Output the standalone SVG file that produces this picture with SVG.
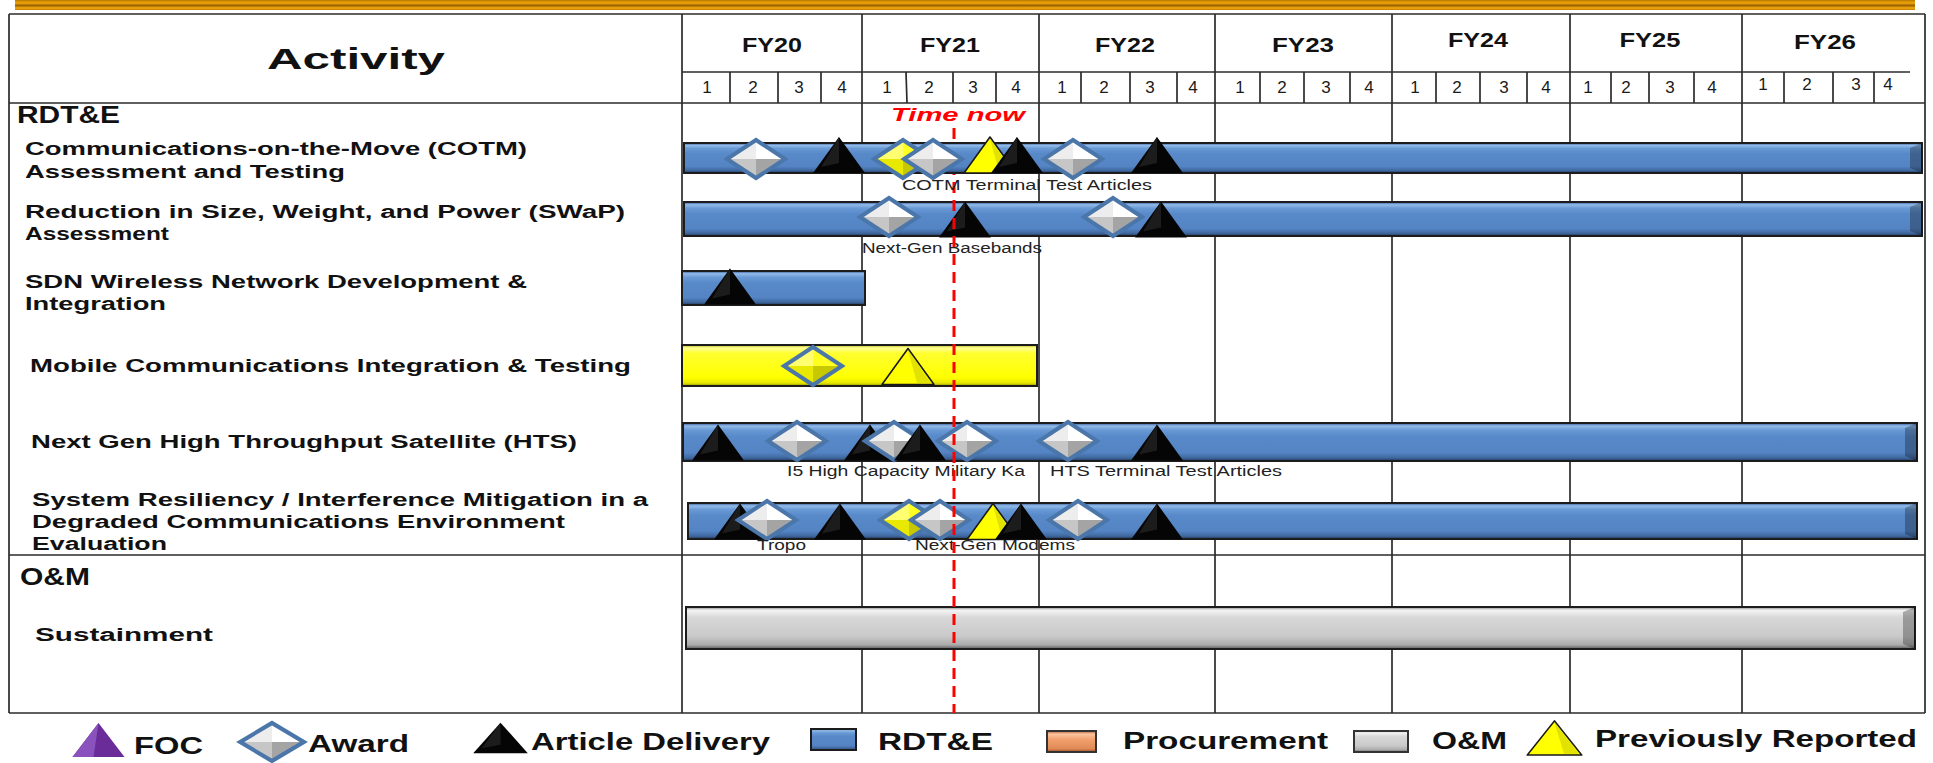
<svg xmlns="http://www.w3.org/2000/svg" width="1933" height="763" viewBox="0 0 1933 763">
<defs>
<linearGradient id="gOrange" x1="0" y1="0" x2="0" y2="1">
<stop offset="0" stop-color="#B87A00"/><stop offset="0.3" stop-color="#F3A70C"/><stop offset="0.55" stop-color="#9A6200"/><stop offset="0.8" stop-color="#F7AA10"/><stop offset="1" stop-color="#C27C00"/>
</linearGradient>
<linearGradient id="gBlue" x1="0" y1="0" x2="0" y2="1">
<stop offset="0" stop-color="#2F5597"/><stop offset="0.08" stop-color="#93BBE8"/><stop offset="0.18" stop-color="#6A9BD6"/><stop offset="0.35" stop-color="#5889C9"/><stop offset="0.78" stop-color="#5484C4"/><stop offset="0.92" stop-color="#3F679E"/><stop offset="1" stop-color="#1F3556"/>
</linearGradient>
<linearGradient id="gYellow" x1="0" y1="0" x2="0" y2="1">
<stop offset="0" stop-color="#B5B500"/><stop offset="0.07" stop-color="#FFFF9A"/><stop offset="0.2" stop-color="#FFFF30"/><stop offset="0.8" stop-color="#FFFF00"/><stop offset="0.93" stop-color="#E5E500"/><stop offset="1" stop-color="#8A8A00"/>
</linearGradient>
<linearGradient id="gGray" x1="0" y1="0" x2="0" y2="1">
<stop offset="0" stop-color="#8A8A8A"/><stop offset="0.08" stop-color="#F4F4F4"/><stop offset="0.25" stop-color="#D8D8D8"/><stop offset="0.7" stop-color="#C9C9C9"/><stop offset="0.9" stop-color="#ABABAB"/><stop offset="1" stop-color="#5A5A5A"/>
</linearGradient>
<linearGradient id="gProc" x1="0" y1="0" x2="0" y2="1">
<stop offset="0" stop-color="#B8603A"/><stop offset="0.15" stop-color="#FBC4A0"/><stop offset="0.4" stop-color="#F2A06E"/><stop offset="0.85" stop-color="#E08A55"/><stop offset="1" stop-color="#9A4B25"/>
</linearGradient>
<g id="award">
<polygon points="0,-19 -29,0 0,0" fill="#EDEDED"/>
<polygon points="0,-19 29,0 0,0" fill="#FFFFFF"/>
<polygon points="0,19 -29,0 0,0" fill="#C6C6C6"/>
<polygon points="0,19 29,0 0,0" fill="#A4A4A4"/>
<polygon points="0,-19 29,0 0,19 -29,0" fill="none" stroke="#4B76AA" stroke-width="4"/>
</g>
<g id="awardY">
<polygon points="0,-19 -29,0 0,0" fill="#FFFF70"/>
<polygon points="0,-19 29,0 0,0" fill="#FFFF20"/>
<polygon points="0,19 -29,0 0,0" fill="#E8E800"/>
<polygon points="0,19 29,0 0,0" fill="#C8C800"/>
<polygon points="0,-19 29,0 0,19 -29,0" fill="none" stroke="#4B76AA" stroke-width="4"/>
</g>
<g id="triK">
<polygon points="0,-18 -26,18 26,18" fill="#050505"/>
<polygon points="0,-18 -18,12 0,8" fill="#1c1c1c"/>
</g>
<g id="triY">
<polygon points="0,-18 -26,18 26,18" fill="#FFFF00" stroke="#1a1a1a" stroke-width="1.6" stroke-linejoin="round"/>
<polygon points="0,-16 23,16.5 9,16.5" fill="#E2E200"/>
</g>
<g id="triP">
<polygon points="0,-17 -26,17 26,17" fill="#6A2C98"/>
<polygon points="0,-17 -26,17 -5,17" fill="#8A52BC"/>
</g>
</defs>
<style>
.grid{stroke:#2b2b2b;stroke-width:1.7;fill:none}
.t{font-family:"Liberation Sans",Arial,Helvetica,sans-serif;fill:#111}
.lbl{font-size:18px;font-weight:bold}
.hd{font-size:24px;font-weight:bold}
.yr{font-size:21px;font-weight:bold;text-anchor:middle}
.q{font-size:17px;text-anchor:middle;fill:#1a1a1a}
.note{font-size:14px;fill:#222}
.leg{font-size:23px;font-weight:bold}
.bar{stroke:#1c1c1c;stroke-width:2}
.bev{fill:#000;opacity:0.28}
.now{stroke:#FF0000;stroke-width:3;stroke-dasharray:11 7;fill:none}
</style>

<rect x="15" y="0" width="1900" height="10" fill="url(#gOrange)"/>

<g id="table">
<line class="grid" x1="9" y1="14" x2="1925" y2="14"/>
<line class="grid" x1="682" y1="72" x2="1910" y2="72"/>
<line class="grid" x1="9" y1="103" x2="1925" y2="103"/>
<line class="grid" x1="9" y1="555" x2="1925" y2="555"/>
<line class="grid" x1="9" y1="713" x2="1925" y2="713"/>
<line class="grid" x1="9" y1="14" x2="9" y2="713"/>
<line class="grid" x1="682" y1="14" x2="682" y2="713"/>
<line class="grid" x1="862" y1="14" x2="862" y2="713"/>
<line class="grid" x1="1039" y1="14" x2="1039" y2="713"/>
<line class="grid" x1="1215" y1="14" x2="1215" y2="713"/>
<line class="grid" x1="1392" y1="14" x2="1392" y2="713"/>
<line class="grid" x1="1570" y1="14" x2="1570" y2="713"/>
<line class="grid" x1="1742" y1="14" x2="1742" y2="713"/>
<line class="grid" x1="1925" y1="14" x2="1925" y2="713"/>
<g id="quarter-lines">
<line class="grid" x1="730" y1="72" x2="730" y2="103"/><line class="grid" x1="778" y1="72" x2="778" y2="103"/><line class="grid" x1="821" y1="72" x2="821" y2="103"/>
<line class="grid" x1="906" y1="72" x2="907" y2="103"/><line class="grid" x1="953" y1="72" x2="953" y2="103"/><line class="grid" x1="996" y1="72" x2="996" y2="103"/>
<line class="grid" x1="1081" y1="72" x2="1081" y2="103"/><line class="grid" x1="1130" y1="72" x2="1130" y2="103"/><line class="grid" x1="1177" y1="72" x2="1177" y2="103"/>
<line class="grid" x1="1260" y1="72" x2="1260" y2="103"/><line class="grid" x1="1304" y1="72" x2="1304" y2="103"/><line class="grid" x1="1350" y1="72" x2="1350" y2="103"/>
<line class="grid" x1="1436" y1="72" x2="1436" y2="103"/><line class="grid" x1="1480" y1="72" x2="1480" y2="103"/><line class="grid" x1="1527" y1="72" x2="1527" y2="103"/>
<line class="grid" x1="1611" y1="72" x2="1611" y2="103"/><line class="grid" x1="1649" y1="72" x2="1649" y2="103"/><line class="grid" x1="1694" y1="72" x2="1694" y2="103"/>
<line class="grid" x1="1784" y1="72" x2="1784" y2="103"/><line class="grid" x1="1833" y1="72" x2="1833" y2="103"/><line class="grid" x1="1874" y1="72" x2="1874" y2="103"/>
</g>
</g>

<g id="header">
<text class="t" x="356" y="69" text-anchor="middle" font-size="29" font-weight="bold" textLength="178" lengthAdjust="spacingAndGlyphs">Activity</text>
<text class="t yr" x="772" y="52" textLength="60" lengthAdjust="spacingAndGlyphs">FY20</text>
<text class="t yr" x="950" y="52" textLength="60" lengthAdjust="spacingAndGlyphs">FY21</text>
<text class="t yr" x="1125" y="52" textLength="60" lengthAdjust="spacingAndGlyphs">FY22</text>
<text class="t yr" x="1303" y="52" textLength="62" lengthAdjust="spacingAndGlyphs">FY23</text>
<text class="t yr" x="1478" y="47" textLength="60" lengthAdjust="spacingAndGlyphs">FY24</text>
<text class="t yr" x="1650" y="47" textLength="61" lengthAdjust="spacingAndGlyphs">FY25</text>
<text class="t yr" x="1825" y="49" textLength="62" lengthAdjust="spacingAndGlyphs">FY26</text>
<g id="quarters">
<text class="t q" x="707" y="93">1</text><text class="t q" x="753" y="93">2</text><text class="t q" x="799" y="93">3</text><text class="t q" x="842" y="93">4</text>
<text class="t q" x="887" y="93">1</text><text class="t q" x="929" y="93">2</text><text class="t q" x="973" y="93">3</text><text class="t q" x="1016" y="93">4</text>
<text class="t q" x="1062" y="93">1</text><text class="t q" x="1104" y="93">2</text><text class="t q" x="1150" y="93">3</text><text class="t q" x="1193" y="93">4</text>
<text class="t q" x="1240" y="93">1</text><text class="t q" x="1282" y="93">2</text><text class="t q" x="1326" y="93">3</text><text class="t q" x="1369" y="93">4</text>
<text class="t q" x="1415" y="93">1</text><text class="t q" x="1457" y="93">2</text><text class="t q" x="1504" y="93">3</text><text class="t q" x="1546" y="93">4</text>
<text class="t q" x="1588" y="93">1</text><text class="t q" x="1626" y="93">2</text><text class="t q" x="1670" y="93">3</text><text class="t q" x="1712" y="93">4</text>
<text class="t q" x="1763" y="90">1</text><text class="t q" x="1807" y="90">2</text><text class="t q" x="1856" y="90">3</text><text class="t q" x="1888" y="90">4</text>
</g>
</g>

<g id="labels">
<text class="t hd" x="17" y="123" textLength="103" lengthAdjust="spacingAndGlyphs">RDT&amp;E</text>
<text class="t lbl" x="25" y="155" textLength="502" lengthAdjust="spacingAndGlyphs">Communications-on-the-Move (COTM)</text>
<text class="t lbl" x="25" y="178" textLength="320" lengthAdjust="spacingAndGlyphs">Assessment and Testing</text>
<text class="t lbl" x="25" y="218" textLength="600" lengthAdjust="spacingAndGlyphs">Reduction in Size, Weight, and Power (SWaP)</text>
<text class="t lbl" x="25" y="240" textLength="144" lengthAdjust="spacingAndGlyphs">Assessment</text>
<text class="t lbl" x="25" y="288" textLength="502" lengthAdjust="spacingAndGlyphs">SDN Wireless Network Development &amp;</text>
<text class="t lbl" x="25" y="310" textLength="141" lengthAdjust="spacingAndGlyphs">Integration</text>
<text class="t lbl" x="30" y="372" textLength="601" lengthAdjust="spacingAndGlyphs">Mobile Communications Integration &amp; Testing</text>
<text class="t lbl" x="31" y="448" textLength="546" lengthAdjust="spacingAndGlyphs">Next Gen High Throughput Satellite (HTS)</text>
<text class="t lbl" x="32" y="506" textLength="616" lengthAdjust="spacingAndGlyphs">System Resiliency / Interference Mitigation in a</text>
<text class="t lbl" x="32" y="528" textLength="533" lengthAdjust="spacingAndGlyphs">Degraded Communications Environment</text>
<text class="t lbl" x="32" y="550" textLength="135" lengthAdjust="spacingAndGlyphs">Evaluation</text>
<text class="t hd" x="20" y="585" textLength="70" lengthAdjust="spacingAndGlyphs">O&amp;M</text>
<text class="t lbl" x="35" y="641" font-size="19" textLength="178" lengthAdjust="spacingAndGlyphs">Sustainment</text>
</g>

<g id="row2">
<rect class="bar" x="684" y="202" width="1238" height="34" fill="url(#gBlue)"/>
<polygon class="bev" points="1910,207 1922,202 1922,236 1910,231"/>
<use href="#award" x="889" y="217"/>
<use href="#triK" x="965" y="219.5"/>
<use href="#award" x="1113" y="217"/>
<use href="#triK" x="1161" y="219.5"/>
<text class="t note" x="862" y="253" textLength="180" lengthAdjust="spacingAndGlyphs">Next-Gen Basebands</text>
</g>

<g id="row3">
<rect class="bar" x="682" y="271" width="183" height="34" fill="url(#gBlue)"/>
<use href="#triK" x="730" y="286.5"/>
</g>

<g id="row4">
<rect class="bar" x="682" y="345" width="355" height="41" fill="url(#gYellow)"/>
<use href="#awardY" x="813" y="366"/>
<use href="#triY" x="908" y="366.5"/>
</g>

<g id="row5">
<rect class="bar" x="683" y="423" width="1234" height="38" fill="url(#gBlue)"/>
<polygon class="bev" points="1905,428 1917,423 1917,461 1905,456"/>
<use href="#triK" x="718" y="442.5"/>
<use href="#award" x="797" y="441"/>
<use href="#triK" x="870" y="442.5"/>
<use href="#award" x="894" y="441"/>
<use href="#triK" x="920" y="442.5"/>
<use href="#award" x="967" y="441"/>
<use href="#award" x="1068" y="441"/>
<use href="#triK" x="1157" y="442.5"/>
<text class="t note" x="787" y="476" textLength="238" lengthAdjust="spacingAndGlyphs">I5 High Capacity Military Ka</text>
<text class="t note" x="1050" y="476" textLength="232" lengthAdjust="spacingAndGlyphs">HTS Terminal Test Articles</text>
</g>

<g id="row6">
<rect class="bar" x="688" y="503" width="1229" height="36" fill="url(#gBlue)"/>
<polygon class="bev" points="1905,508 1917,503 1917,539 1905,534"/>
<use href="#triK" x="740" y="521.5"/>
<use href="#award" x="767" y="520"/>
<use href="#triK" x="840" y="521.5"/>
<use href="#awardY" x="909" y="520"/>
<use href="#award" x="940" y="520"/>
<use href="#triY" x="993" y="521.5"/>
<use href="#triK" x="1021" y="521.5"/>
<use href="#award" x="1078" y="520"/>
<use href="#triK" x="1157" y="521.5"/>
<text class="t note" x="757" y="550" textLength="49" lengthAdjust="spacingAndGlyphs">Tropo</text>
<text class="t note" x="915" y="550" textLength="160" lengthAdjust="spacingAndGlyphs">Next-Gen Modems</text>
</g>

<g id="row7">
<rect class="bar" x="686" y="607" width="1229" height="42" fill="url(#gGray)"/>
<polygon class="bev" points="1903,612 1915,607 1915,649 1903,644"/>
</g>

<g id="connectors">
<line class="now" x1="954" y1="128" x2="954" y2="713"/>
<text class="t" x="891" y="121" font-size="18" font-weight="bold" font-style="italic" style="fill:#FF0000" textLength="134" lengthAdjust="spacingAndGlyphs">Time now</text>
</g>

<g id="row1">
<rect class="bar" x="684" y="143" width="1238" height="30" fill="url(#gBlue)"/>
<polygon class="bev" points="1910,148 1922,143 1922,173 1910,168"/>
<use href="#award" x="756" y="159"/>
<use href="#triK" x="839" y="155"/>
<use href="#awardY" x="903" y="159"/>
<use href="#award" x="933" y="159"/>
<use href="#triY" x="990" y="155"/>
<use href="#triK" x="1017" y="155"/>
<use href="#award" x="1073" y="159"/>
<use href="#triK" x="1157" y="155"/>
<text class="t note" x="902" y="190" textLength="250" lengthAdjust="spacingAndGlyphs">COTM Terminal Test Articles</text>
</g>

<g id="legend">
<use href="#triP" x="98.5" y="740"/>
<text class="t leg" x="134" y="754" textLength="69" lengthAdjust="spacingAndGlyphs">FOC</text>
<use href="#award" transform="translate(272,742) scale(1.1,1.0)"/>
<text class="t leg" x="308" y="752" textLength="101" lengthAdjust="spacingAndGlyphs">Award</text>
<use href="#triK" transform="translate(500.5,738) scale(1.05,0.85)"/>
<text class="t leg" x="531" y="750" textLength="239" lengthAdjust="spacingAndGlyphs">Article Delivery</text>
<rect x="811" y="729" width="45" height="21" fill="url(#gBlue)" stroke="#1c1c1c" stroke-width="2"/>
<text class="t leg" x="878" y="750" textLength="115" lengthAdjust="spacingAndGlyphs">RDT&amp;E</text>
<rect x="1047" y="731" width="49" height="21" fill="url(#gProc)" stroke="#333" stroke-width="2"/>
<text class="t leg" x="1123" y="749" textLength="205" lengthAdjust="spacingAndGlyphs">Procurement</text>
<rect x="1354" y="731" width="54" height="21" fill="url(#gGray)" stroke="#333" stroke-width="2"/>
<text class="t leg" x="1432" y="749" textLength="75" lengthAdjust="spacingAndGlyphs">O&amp;M</text>
<use href="#triY" transform="translate(1554.5,738) scale(1.05,0.95)"/>
<text class="t leg" x="1595" y="747" textLength="322" lengthAdjust="spacingAndGlyphs">Previously Reported</text>
</g>
</svg>
